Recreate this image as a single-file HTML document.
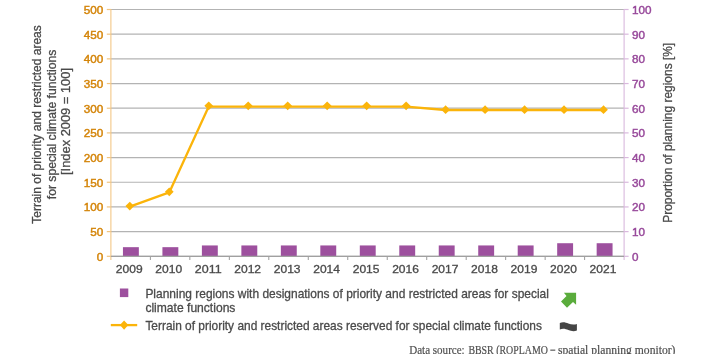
<!DOCTYPE html>
<html><head><meta charset="utf-8"><style>
html,body{margin:0;padding:0;background:#fff;width:707px;height:354px;overflow:hidden}
svg{display:block;will-change:transform}
text{font-family:"Liberation Sans",sans-serif}
.yl{font-size:11.4px;fill:#d4850a;stroke:#d4850a;stroke-width:0.45px}
.yr{font-size:11.4px;fill:#984a9b;stroke:#984a9b;stroke-width:0.45px}
.xl{font-size:10.9px;fill:#4a4a4a;stroke:#4a4a4a;stroke-width:0.3px}
.tt text{font-size:12.8px;fill:#4a4a4a;stroke:#4a4a4a;stroke-width:0.3px}
.lg{font-size:12.6px;fill:#4a4a4a;stroke:#4a4a4a;stroke-width:0.3px}
.ds{font-family:"Liberation Serif",serif;font-size:13.2px;fill:#4d4d4d;stroke:#4d4d4d;stroke-width:0.2px}
</style></head><body>
<svg width="707" height="354" viewBox="0 0 707 354">
<line x1="110.9" y1="256.30" x2="624.1" y2="256.30" stroke="#b3b3b3" stroke-width="1.2"/>
<line x1="110.9" y1="231.62" x2="624.1" y2="231.62" stroke="#b3b3b3" stroke-width="1.2"/>
<line x1="110.9" y1="206.94" x2="624.1" y2="206.94" stroke="#b3b3b3" stroke-width="1.2"/>
<line x1="110.9" y1="182.26" x2="624.1" y2="182.26" stroke="#b3b3b3" stroke-width="1.2"/>
<line x1="110.9" y1="157.58" x2="624.1" y2="157.58" stroke="#b3b3b3" stroke-width="1.2"/>
<line x1="110.9" y1="132.90" x2="624.1" y2="132.90" stroke="#b3b3b3" stroke-width="1.2"/>
<line x1="110.9" y1="108.22" x2="624.1" y2="108.22" stroke="#b3b3b3" stroke-width="1.2"/>
<line x1="110.9" y1="83.54" x2="624.1" y2="83.54" stroke="#b3b3b3" stroke-width="1.2"/>
<line x1="110.9" y1="58.86" x2="624.1" y2="58.86" stroke="#b3b3b3" stroke-width="1.2"/>
<line x1="110.9" y1="34.18" x2="624.1" y2="34.18" stroke="#b3b3b3" stroke-width="1.2"/>
<line x1="110.9" y1="9.50" x2="624.1" y2="9.50" stroke="#b3b3b3" stroke-width="1.2"/>
<line x1="106.8" y1="256.30" x2="110.9" y2="256.30" stroke="#f2c47f" stroke-width="1.2"/>
<text x="103.3" y="260.70" text-anchor="end" class="yl" textLength="6.5" lengthAdjust="spacingAndGlyphs">0</text>
<line x1="106.8" y1="231.62" x2="110.9" y2="231.62" stroke="#f2c47f" stroke-width="1.2"/>
<text x="103.3" y="236.02" text-anchor="end" class="yl" textLength="13.0" lengthAdjust="spacingAndGlyphs">50</text>
<line x1="106.8" y1="206.94" x2="110.9" y2="206.94" stroke="#f2c47f" stroke-width="1.2"/>
<text x="103.3" y="211.34" text-anchor="end" class="yl" textLength="19.5" lengthAdjust="spacingAndGlyphs">100</text>
<line x1="106.8" y1="182.26" x2="110.9" y2="182.26" stroke="#f2c47f" stroke-width="1.2"/>
<text x="103.3" y="186.66" text-anchor="end" class="yl" textLength="19.5" lengthAdjust="spacingAndGlyphs">150</text>
<line x1="106.8" y1="157.58" x2="110.9" y2="157.58" stroke="#f2c47f" stroke-width="1.2"/>
<text x="103.3" y="161.98" text-anchor="end" class="yl" textLength="19.5" lengthAdjust="spacingAndGlyphs">200</text>
<line x1="106.8" y1="132.90" x2="110.9" y2="132.90" stroke="#f2c47f" stroke-width="1.2"/>
<text x="103.3" y="137.30" text-anchor="end" class="yl" textLength="19.5" lengthAdjust="spacingAndGlyphs">250</text>
<line x1="106.8" y1="108.22" x2="110.9" y2="108.22" stroke="#f2c47f" stroke-width="1.2"/>
<text x="103.3" y="112.62" text-anchor="end" class="yl" textLength="19.5" lengthAdjust="spacingAndGlyphs">300</text>
<line x1="106.8" y1="83.54" x2="110.9" y2="83.54" stroke="#f2c47f" stroke-width="1.2"/>
<text x="103.3" y="87.94" text-anchor="end" class="yl" textLength="19.5" lengthAdjust="spacingAndGlyphs">350</text>
<line x1="106.8" y1="58.86" x2="110.9" y2="58.86" stroke="#f2c47f" stroke-width="1.2"/>
<text x="103.3" y="63.26" text-anchor="end" class="yl" textLength="19.5" lengthAdjust="spacingAndGlyphs">400</text>
<line x1="106.8" y1="34.18" x2="110.9" y2="34.18" stroke="#f2c47f" stroke-width="1.2"/>
<text x="103.3" y="38.58" text-anchor="end" class="yl" textLength="19.5" lengthAdjust="spacingAndGlyphs">450</text>
<line x1="106.8" y1="9.50" x2="110.9" y2="9.50" stroke="#f2c47f" stroke-width="1.2"/>
<text x="103.3" y="13.90" text-anchor="end" class="yl" textLength="19.5" lengthAdjust="spacingAndGlyphs">500</text>
<line x1="624.1" y1="256.30" x2="628.6" y2="256.30" stroke="#d9b8dd" stroke-width="1.2"/>
<text x="632.1" y="260.80" class="yr" textLength="6.5" lengthAdjust="spacingAndGlyphs">0</text>
<line x1="624.1" y1="231.62" x2="628.6" y2="231.62" stroke="#d9b8dd" stroke-width="1.2"/>
<text x="632.1" y="236.12" class="yr" textLength="13.0" lengthAdjust="spacingAndGlyphs">10</text>
<line x1="624.1" y1="206.94" x2="628.6" y2="206.94" stroke="#d9b8dd" stroke-width="1.2"/>
<text x="632.1" y="211.44" class="yr" textLength="13.0" lengthAdjust="spacingAndGlyphs">20</text>
<line x1="624.1" y1="182.26" x2="628.6" y2="182.26" stroke="#d9b8dd" stroke-width="1.2"/>
<text x="632.1" y="186.76" class="yr" textLength="13.0" lengthAdjust="spacingAndGlyphs">30</text>
<line x1="624.1" y1="157.58" x2="628.6" y2="157.58" stroke="#d9b8dd" stroke-width="1.2"/>
<text x="632.1" y="162.08" class="yr" textLength="13.0" lengthAdjust="spacingAndGlyphs">40</text>
<line x1="624.1" y1="132.90" x2="628.6" y2="132.90" stroke="#d9b8dd" stroke-width="1.2"/>
<text x="632.1" y="137.40" class="yr" textLength="13.0" lengthAdjust="spacingAndGlyphs">50</text>
<line x1="624.1" y1="108.22" x2="628.6" y2="108.22" stroke="#d9b8dd" stroke-width="1.2"/>
<text x="632.1" y="112.72" class="yr" textLength="13.0" lengthAdjust="spacingAndGlyphs">60</text>
<line x1="624.1" y1="83.54" x2="628.6" y2="83.54" stroke="#d9b8dd" stroke-width="1.2"/>
<text x="632.1" y="88.04" class="yr" textLength="13.0" lengthAdjust="spacingAndGlyphs">70</text>
<line x1="624.1" y1="58.86" x2="628.6" y2="58.86" stroke="#d9b8dd" stroke-width="1.2"/>
<text x="632.1" y="63.36" class="yr" textLength="13.0" lengthAdjust="spacingAndGlyphs">80</text>
<line x1="624.1" y1="34.18" x2="628.6" y2="34.18" stroke="#d9b8dd" stroke-width="1.2"/>
<text x="632.1" y="38.68" class="yr" textLength="13.0" lengthAdjust="spacingAndGlyphs">90</text>
<line x1="624.1" y1="9.50" x2="628.6" y2="9.50" stroke="#d9b8dd" stroke-width="1.2"/>
<text x="632.1" y="14.00" class="yr" textLength="19.5" lengthAdjust="spacingAndGlyphs">100</text>
<line x1="150.38" y1="256.3" x2="150.38" y2="260" stroke="#9a9a9a" stroke-width="1"/>
<line x1="189.85" y1="256.3" x2="189.85" y2="260" stroke="#9a9a9a" stroke-width="1"/>
<line x1="229.33" y1="256.3" x2="229.33" y2="260" stroke="#9a9a9a" stroke-width="1"/>
<line x1="268.81" y1="256.3" x2="268.81" y2="260" stroke="#9a9a9a" stroke-width="1"/>
<line x1="308.28" y1="256.3" x2="308.28" y2="260" stroke="#9a9a9a" stroke-width="1"/>
<line x1="347.76" y1="256.3" x2="347.76" y2="260" stroke="#9a9a9a" stroke-width="1"/>
<line x1="387.24" y1="256.3" x2="387.24" y2="260" stroke="#9a9a9a" stroke-width="1"/>
<line x1="426.72" y1="256.3" x2="426.72" y2="260" stroke="#9a9a9a" stroke-width="1"/>
<line x1="466.19" y1="256.3" x2="466.19" y2="260" stroke="#9a9a9a" stroke-width="1"/>
<line x1="505.67" y1="256.3" x2="505.67" y2="260" stroke="#9a9a9a" stroke-width="1"/>
<line x1="545.15" y1="256.3" x2="545.15" y2="260" stroke="#9a9a9a" stroke-width="1"/>
<line x1="584.62" y1="256.3" x2="584.62" y2="260" stroke="#9a9a9a" stroke-width="1"/>
<rect x="122.94" y="247.17" width="15.9" height="9.13" fill="#9d509e"/>
<rect x="162.42" y="247.17" width="15.9" height="9.13" fill="#9d509e"/>
<rect x="201.89" y="245.44" width="15.9" height="10.86" fill="#9d509e"/>
<rect x="241.37" y="245.44" width="15.9" height="10.86" fill="#9d509e"/>
<rect x="280.85" y="245.44" width="15.9" height="10.86" fill="#9d509e"/>
<rect x="320.32" y="245.44" width="15.9" height="10.86" fill="#9d509e"/>
<rect x="359.80" y="245.44" width="15.9" height="10.86" fill="#9d509e"/>
<rect x="399.28" y="245.44" width="15.9" height="10.86" fill="#9d509e"/>
<rect x="438.75" y="245.44" width="15.9" height="10.86" fill="#9d509e"/>
<rect x="478.23" y="245.44" width="15.9" height="10.86" fill="#9d509e"/>
<rect x="517.71" y="245.44" width="15.9" height="10.86" fill="#9d509e"/>
<rect x="557.18" y="243.22" width="15.9" height="13.08" fill="#9d509e"/>
<rect x="596.66" y="243.22" width="15.9" height="13.08" fill="#9d509e"/>
<line x1="110.9" y1="9.0" x2="110.9" y2="260" stroke="#f2c47f" stroke-width="1.05"/>
<line x1="624.1" y1="9.0" x2="624.1" y2="260" stroke="#d9b8dd" stroke-width="1.1"/>
<line x1="110.9" y1="256.3" x2="624.1" y2="256.3" stroke="#a0a0a0" stroke-width="1.2"/>
<polyline fill="none" stroke="#fbb40a" stroke-width="2.3" stroke-linejoin="round" points="129.79,206.60 169.27,192.40 208.74,106.60 248.22,106.60 287.70,106.60 327.17,106.60 366.65,106.60 406.13,106.60 445.60,110.00 485.08,110.00 524.56,110.00 564.03,110.00 603.51,110.00"/>
<path d="M129.79 201.75L134.14 206.10L129.79 210.45L125.44 206.10Z" fill="#fbb40a"/>
<path d="M169.27 187.50L173.62 191.85L169.27 196.20L164.92 191.85Z" fill="#fbb40a"/>
<path d="M208.74 101.45L213.09 105.80L208.74 110.15L204.39 105.80Z" fill="#fbb40a"/>
<path d="M248.22 101.45L252.57 105.80L248.22 110.15L243.87 105.80Z" fill="#fbb40a"/>
<path d="M287.70 101.45L292.05 105.80L287.70 110.15L283.35 105.80Z" fill="#fbb40a"/>
<path d="M327.17 101.45L331.52 105.80L327.17 110.15L322.82 105.80Z" fill="#fbb40a"/>
<path d="M366.65 101.45L371.00 105.80L366.65 110.15L362.30 105.80Z" fill="#fbb40a"/>
<path d="M406.13 101.45L410.48 105.80L406.13 110.15L401.78 105.80Z" fill="#fbb40a"/>
<path d="M445.60 105.35L449.95 109.70L445.60 114.05L441.25 109.70Z" fill="#fbb40a"/>
<path d="M485.08 105.35L489.43 109.70L485.08 114.05L480.73 109.70Z" fill="#fbb40a"/>
<path d="M524.56 105.35L528.91 109.70L524.56 114.05L520.21 109.70Z" fill="#fbb40a"/>
<path d="M564.03 105.35L568.38 109.70L564.03 114.05L559.68 109.70Z" fill="#fbb40a"/>
<path d="M603.51 105.35L607.86 109.70L603.51 114.05L599.16 109.70Z" fill="#fbb40a"/>
<text x="129.24" y="272.8" text-anchor="middle" class="xl" textLength="26.8" lengthAdjust="spacingAndGlyphs">2009</text>
<text x="168.72" y="272.8" text-anchor="middle" class="xl" textLength="26.8" lengthAdjust="spacingAndGlyphs">2010</text>
<text x="208.19" y="272.8" text-anchor="middle" class="xl" textLength="26.8" lengthAdjust="spacingAndGlyphs">2011</text>
<text x="247.67" y="272.8" text-anchor="middle" class="xl" textLength="26.8" lengthAdjust="spacingAndGlyphs">2012</text>
<text x="287.15" y="272.8" text-anchor="middle" class="xl" textLength="26.8" lengthAdjust="spacingAndGlyphs">2013</text>
<text x="326.62" y="272.8" text-anchor="middle" class="xl" textLength="26.8" lengthAdjust="spacingAndGlyphs">2014</text>
<text x="366.10" y="272.8" text-anchor="middle" class="xl" textLength="26.8" lengthAdjust="spacingAndGlyphs">2015</text>
<text x="405.58" y="272.8" text-anchor="middle" class="xl" textLength="26.8" lengthAdjust="spacingAndGlyphs">2016</text>
<text x="445.05" y="272.8" text-anchor="middle" class="xl" textLength="26.8" lengthAdjust="spacingAndGlyphs">2017</text>
<text x="484.53" y="272.8" text-anchor="middle" class="xl" textLength="26.8" lengthAdjust="spacingAndGlyphs">2018</text>
<text x="524.01" y="272.8" text-anchor="middle" class="xl" textLength="26.8" lengthAdjust="spacingAndGlyphs">2019</text>
<text x="563.48" y="272.8" text-anchor="middle" class="xl" textLength="26.8" lengthAdjust="spacingAndGlyphs">2020</text>
<text x="602.96" y="272.8" text-anchor="middle" class="xl" textLength="26.8" lengthAdjust="spacingAndGlyphs">2021</text>
<g transform="translate(41.4,124.5) rotate(-90)" class="tt"><text x="0" y="0" text-anchor="middle" textLength="198.5" lengthAdjust="spacingAndGlyphs">Terrain of priority and restricted areas</text><text x="0" y="14.3" text-anchor="middle" textLength="149.5" lengthAdjust="spacingAndGlyphs">for special climate functions</text><text x="3" y="29.1" text-anchor="middle" textLength="107" lengthAdjust="spacingAndGlyphs">[Index 2009 = 100]</text></g>
<g transform="translate(672.3,132.8) rotate(-90)" class="tt"><text x="0" y="0" text-anchor="middle" textLength="180" lengthAdjust="spacingAndGlyphs">Proportion of planning regions [%]</text></g>
<rect x="119.9" y="288.5" width="8.4" height="8.6" fill="#9d509e"/>
<text x="145.4" y="297.8" class="lg" textLength="403.5" lengthAdjust="spacingAndGlyphs">Planning regions with designations of priority and restricted areas for special</text>
<text x="145.4" y="312.2" class="lg" textLength="90" lengthAdjust="spacingAndGlyphs">climate functions</text>
<line x1="110.8" y1="325.1" x2="137.2" y2="325.1" stroke="#fbb40a" stroke-width="2.3"/>
<path d="M124.1 320.5L128.3 325.1L124.1 329.7L119.9 325.1Z" fill="#fbb40a"/>
<text x="145.4" y="329.7" class="lg" textLength="396.5" lengthAdjust="spacingAndGlyphs">Terrain of priority and restricted areas reserved for special climate functions</text>
<path d="M563.9 292.8L576.1 292.8L576.1 304.8L573 301.9L567 307.8L561 301.6L566.5 295.9Z" fill="#5aac3c"/>
<path d="M559.8 322.9C563 321.5 566 322.5 568.3 323.5C571 324.6 574 325 576.9 324.0L576.9 330.6C574 331.6 571 331.2 568.3 330.1C566 329.1 563 328.1 559.8 329.5Z" fill="#454545"/>
<text x="409.2" y="353.5" class="ds" textLength="55.5" lengthAdjust="spacingAndGlyphs">Data source:</text>
<text x="468.4" y="353.5" class="ds" textLength="79.5" lengthAdjust="spacingAndGlyphs">BBSR (ROPLAMO</text>
<rect x="550.3" y="349.6" width="5" height="1.1" fill="#4d4d4d"/>
<text x="558" y="353.5" class="ds" textLength="117.5" lengthAdjust="spacingAndGlyphs">spatial planning monitor)</text>
</svg>
</body></html>
